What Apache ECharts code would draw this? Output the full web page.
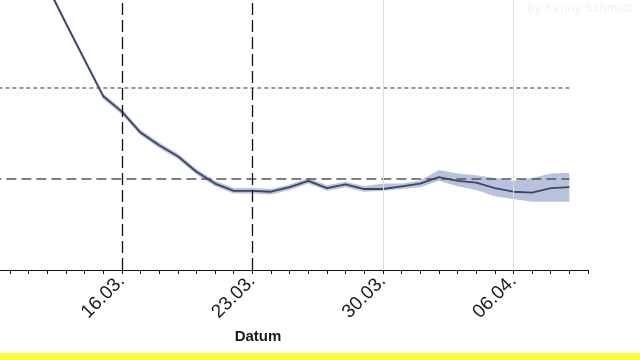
<!DOCTYPE html>
<html>
<head>
<meta charset="utf-8">
<script src="https://cdn.jsdelivr.net/npm/echarts@6/dist/echarts.min.js"></script>
<style>
html,body{margin:0;padding:0;background:#fff;}
#chart{width:640px;height:360px;}
</style>
</head>
<body>
<div id="chart"></div>
<script>
// Day numbers counted from 1 March (e.g. 32 = 01.04.)
var days = [10,11,12,13,14,15,16,17,18,19,20,21,22,23,24,25,26,27,28,29,30,31,32,33,34,35,36,37,38,39,40];
var rValue = [3.85,3.48,3.12,2.71,2.31,1.91,1.74,1.51,1.37,1.25,1.08,0.95,0.87,0.87,0.86,0.91,0.98,0.90,0.94,0.89,0.89,0.92,0.95,1.02,0.98,0.96,0.90,0.86,0.85,0.90,0.91];
var rLower = [3.81,3.44,3.09,2.68,2.28,1.88,1.71,1.48,1.34,1.22,1.05,0.92,0.84,0.84,0.83,0.88,0.95,0.87,0.91,0.86,0.87,0.89,0.91,0.98,0.92,0.88,0.81,0.78,0.75,0.75,0.75];
var rUpper = [3.89,3.52,3.15,2.74,2.34,1.94,1.77,1.54,1.40,1.28,1.11,0.98,0.90,0.90,0.89,0.94,1.01,0.93,0.97,0.92,0.95,0.95,0.98,1.10,1.06,1.04,1.01,0.98,1.01,1.06,1.07];
var tickDays = [16,23,30,37];
var tickLabels = ['16.03.','23.03.','30.03.','06.04.'];
var dashedDays = [16,23];
var greyDays = [30,37];
var refLevels = [2,1];
var refStart = 9, refEnd = 40;
var xMin = 9.464, xMax = 41;
var yMin = 0, yMax = 2.967;

var dailyTicks = [];
for (var d = 10; d <= 41; d++) dailyTicks.push(d);

var lineData = days.map(function(d,i){return [d, rValue[i]];});

function renderBand(params, api) {
  var pts = [];
  for (var i = 0; i < days.length; i++) pts.push(api.coord([days[i], rUpper[i]]));
  for (var j = days.length - 1; j >= 0; j--) pts.push(api.coord([days[j], rLower[j]]));
  var cs = params.coordSys;
  return {
    type:'polygon',
    shape:{points:pts},
    style:{fill:'rgba(120,138,190,0.52)', stroke:null},
    clipPath:{type:'rect', shape:{x:cs.x, y:cs.y, width:cs.width, height:cs.height}}
  };
}

var chart = echarts.init(document.getElementById('chart'), null, {renderer:'canvas'});
chart.setOption({
  animation:false,
  backgroundColor:'#ffffff',
  grid:{left:0,right:52,top:0,bottom:90},
  xAxis:{
    type:'value', min:xMin, max:xMax,
    axisLine:{show:true,onZero:false,lineStyle:{color:'#111',width:1}},
    axisTick:{show:true,customValues:dailyTicks,length:4,lineStyle:{color:'#111',width:1}},
    axisLabel:{
      customValues:tickDays, rotate:45, margin:8,
      color:'#1a1a1a', fontSize:19, fontFamily:'Liberation Sans, Arial, sans-serif',
      formatter:function(v){var i=tickDays.indexOf(v);return i>=0?tickLabels[i]:'';}
    },
    splitLine:{show:false}
  },
  yAxis:{
    type:'value', min:yMin, max:yMax,
    axisLine:{show:false}, axisTick:{show:false}, axisLabel:{show:false}, splitLine:{show:false}
  },
  graphic:[
    {type:'text', right:8, top:3, z:10, style:{text:'by Kenny Schmidt', fill:'#f5f5f5', font:'bold 12px Liberation Sans, Arial, sans-serif'}},
    {type:'text', x:258, y:337, z:10, style:{text:'Datum', fill:'#1a1a1a', font:'bold 15px Liberation Sans, Arial, sans-serif', textAlign:'center', textVerticalAlign:'middle'}},
    {type:'rect', shape:{x:0,y:353,width:640,height:7}, z:10, style:{fill:'#fbfb3c'}}
  ],
  series:[
    {
      type:'line', data:[], z:1, silent:true,
      markLine:{
        silent:true, symbol:['none','none'], label:{show:false}, animation:false,
        data: greyDays.map(function(d){return {xAxis:d, lineStyle:{color:'#dcdcdc',width:1,type:'solid'}};})
      }
    },
    {
      name:'band', type:'custom', data:[0], renderItem:renderBand, z:2, silent:true
    },
    {
      type:'line', data:[[refStart, refLevels[0]-0.055],[refEnd, refLevels[0]-0.055]], symbol:'none', z:3, silent:true,
      lineStyle:{color:'#dfe4ef', width:1, type:[1,2]}
    },
    {
      type:'line', data:[[refStart, refLevels[0]],[refEnd, refLevels[0]]], symbol:'none', z:3, silent:true,
      lineStyle:{color:'#333', width:1, type:[4,3]}
    },
    {
      type:'line', data:[[refStart, refLevels[1]],[refEnd, refLevels[1]]], symbol:'none', z:3, silent:true,
      lineStyle:{color:'#555', width:1.5, type:[10,5]}
    },
    {
      name:'R', type:'line', data:lineData, symbol:'none', z:4,
      lineStyle:{color:'#3c4563', width:1.8},
      markLine:{
        silent:true, symbol:['none','none'], label:{show:false}, animation:false,
        data: dashedDays.map(function(d){return {xAxis:d, lineStyle:{color:'#111',width:1.3,type:[12,5]}};})
      }
    }
  ]
});
</script>
</body>
</html>
